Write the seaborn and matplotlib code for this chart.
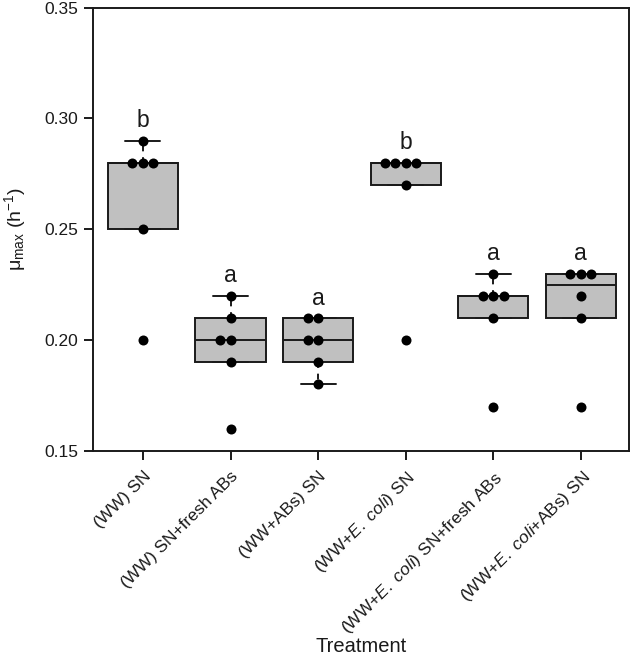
import numpy as np
import pandas as pd
import matplotlib
matplotlib.use("Agg")
import matplotlib.pyplot as plt
import matplotlib.transforms as mtransforms
import seaborn as sns

# treatment labels (E. coli in italics via mathtext)
treatments = [
    "(WW) SN",
    "(WW) SN+fresh ABs",
    "(WW+ABs) SN",
    "(WW+$\\mathit{E.\\ coli}$) SN",
    "(WW+$\\mathit{E.\\ coli}$) SN+fresh ABs",
    "(WW+$\\mathit{E.\\ coli}$+ABs) SN",
]

# individual replicate values (mu_max, h^-1)
ww_sn = [0.29, 0.28, 0.28, 0.28, 0.25, 0.20]
ww_sn_fresh = [0.22, 0.21, 0.20, 0.20, 0.19, 0.16]
ww_abs_sn = [0.21, 0.21, 0.20, 0.20, 0.19, 0.18]
ww_ecoli_sn = [0.28, 0.28, 0.28, 0.28, 0.27, 0.20]
ww_ecoli_sn_fresh = [0.23, 0.22, 0.22, 0.22, 0.21, 0.17]
ww_ecoli_abs_sn = [0.23, 0.23, 0.23, 0.22, 0.21, 0.17]

# box statistics as drawn in the figure
q1s = [0.25, 0.19, 0.19, 0.27, 0.21, 0.21]
medians = [0.28, 0.20, 0.20, 0.28, 0.22, 0.225]
q3s = [0.28, 0.21, 0.21, 0.28, 0.22, 0.23]
whis_lo = [0.25, 0.19, 0.18, 0.27, 0.21, 0.21]
whis_hi = [0.29, 0.22, 0.21, 0.28, 0.23, 0.23]

letters = ["b", "a", "a", "b", "a", "a"]

groups = [ww_sn, ww_sn_fresh, ww_abs_sn, ww_ecoli_sn, ww_ecoli_sn_fresh, ww_ecoli_abs_sn]
df = pd.DataFrame({
    "Treatment": np.repeat(treatments, [len(g) for g in groups]),
    "mu": np.concatenate(groups),
})

sns.set_style("ticks")
plt.rcParams["font.family"] = ["Liberation Sans", "DejaVu Sans"]
plt.rcParams["mathtext.fontset"] = "custom"
plt.rcParams["mathtext.rm"] = "Liberation Sans"
plt.rcParams["mathtext.it"] = "Liberation Sans:italic"

ink = "#1a1a1a"
fig = plt.figure(figsize=(6.31, 6.56), dpi=100)
ax = fig.add_axes([93 / 631, 1 - 451 / 656, (629 - 93) / 631, (451 - 7.5) / 656])

stats = []
for i in range(len(treatments)):
    stats.append(dict(q1=q1s[i], med=medians[i], q3=q3s[i],
                      whislo=whis_lo[i], whishi=whis_hi[i], fliers=[]))

ax.bxp(stats, positions=range(len(treatments)), widths=0.8, capwidths=0.4,
       patch_artist=True, showfliers=False, manage_ticks=False,
       boxprops=dict(facecolor="#c0c0c0", edgecolor=ink, linewidth=1.4),
       medianprops=dict(color=ink, linewidth=1.4),
       whiskerprops=dict(color=ink, linewidth=1.4, linestyle=(0, (3, 3))),
       capprops=dict(color=ink, linewidth=1.4))

sns.swarmplot(data=df, x="Treatment", y="mu", order=treatments, color="black",
              size=7.2, linewidth=0, ax=ax, zorder=3)

for i, g in enumerate(groups):
    ax.text(i, max(g) + 0.006, letters[i], ha="center", va="baseline",
            fontsize=16.5, color=ink)

ax.set_xlim(-0.57, 5.55)
ax.set_ylim(0.15, 0.35)
yt = [0.15, 0.20, 0.25, 0.30, 0.35]
ax.set_yticks(yt)
ax.set_yticklabels([f"{v:.2f}" for v in yt], fontsize=12.5)
ax.set_xticks(range(len(treatments)))
ax.set_xticklabels(treatments, rotation=45, ha="right", va="top",
                   rotation_mode="anchor", fontsize=12.5)
offset = mtransforms.ScaledTranslation(4 / 100, 0, fig.dpi_scale_trans)
for lab in ax.get_xticklabels():
    lab.set_transform(lab.get_transform() + offset)

ax.tick_params(axis="both", direction="out", length=6.5, width=1.4, color=ink,
               labelcolor=ink)
ax.tick_params(axis="y", pad=4)
ax.tick_params(axis="x", pad=6)
for s in ax.spines.values():
    s.set_visible(True)
    s.set_linewidth(1.4)
    s.set_color(ink)

ax.set_xlabel("Treatment", fontsize=14.5, color=ink)
ax.xaxis.set_label_coords(0.5, -0.42)
ax.xaxis.label.set_va("top")
ax.set_ylabel("μ$_{\\mathregular{max}}$ (h$^{\\mathregular{-1}}$)", fontsize=14,
              color=ink)
ax.yaxis.set_label_coords(-0.122, 0.5)

fig.savefig("out.png", dpi=100)
